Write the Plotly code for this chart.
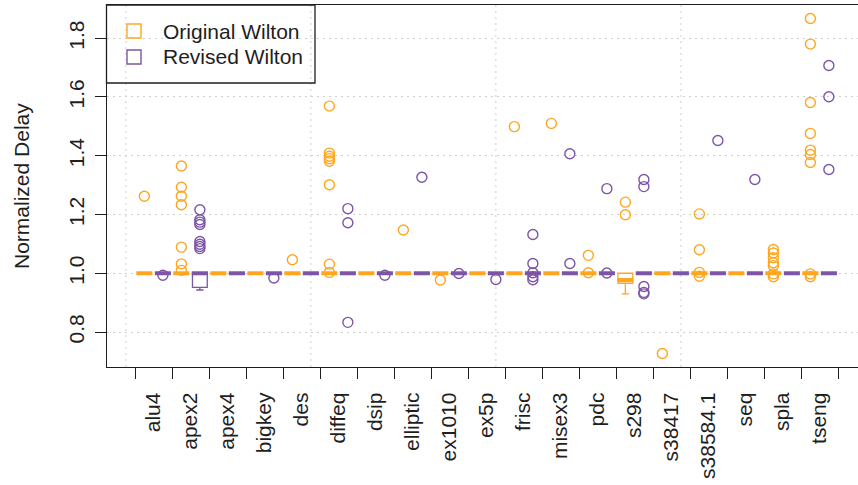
import plotly.graph_objects as go

# Benchmarks, in plotting order
benchmarks = ["alu4", "apex2", "apex4", "bigkey", "des", "diffeq", "dsip",
              "elliptic", "ex1010", "ex5p", "frisc", "misex3", "pdc", "s298",
              "s38417", "s38584.1", "seq", "spla", "tseng"]

# Box statistics for the original Wilton switch block
orig_q1 = [1.0] * 13 + [0.966] + [1.0] * 5
orig_median = [1.0] * 13 + [0.977] + [1.0] * 5
orig_q3 = [1.0] * 19
orig_lower = [1.0] * 13 + [0.930] + [1.0] * 5
orig_upper = [1.0] * 19

# Box statistics for the revised Wilton switch block
rev_q1 = [1.0, 0.952] + [1.0] * 17
rev_median = [1.0] * 19
rev_q3 = [1.0] * 19
rev_lower = [1.0, 0.943] + [1.0] * 17
rev_upper = [1.0] * 19

# Outlying normalized delays, one list per benchmark
orig_outliers = [
    [1.262],
    [1.365, 1.293, 1.262, 1.233, 1.089, 1.032, 1.010],
    [],
    [],
    [1.046],
    [1.569, 1.409, 1.398, 1.390, 1.381, 1.301, 1.031, 1.003],
    [],
    [1.147],
    [0.977],
    [],
    [1.499],
    [1.510],
    [1.061, 1.002],
    [1.242, 1.199],
    [0.727],
    [1.202, 1.080, 1.003, 0.990],
    [],
    [1.081, 1.069, 1.053, 1.036, 1.026, 0.998, 0.988],
    [1.867, 1.780, 1.581, 1.476, 1.419, 1.404, 1.377, 0.998, 0.988],
]
rev_outliers = [
    [0.993],
    [1.216, 1.182, 1.174, 1.166, 1.108, 1.099, 1.091, 1.084],
    [],
    [0.984],
    [],
    [1.220, 1.172, 0.833],
    [0.993],
    [1.327],
    [0.999],
    [0.979],
    [1.132, 1.033, 1.002, 0.988, 0.978],
    [1.407, 1.033],
    [1.288, 1.001],
    [1.319, 1.295, 0.955, 0.935, 0.930],
    [],
    [1.452],
    [1.319],
    [],
    [1.707, 1.601, 1.353],
]

y_ticks = [0.8, 1.0, 1.2, 1.4, 1.6, 1.8]
series_names = ["Original Wilton", "Revised Wilton"]

ORANGE = "#FFA620"
PURPLE = "#7D55A6"
INK = "#1e1e1e"
GRID = "#cfcfcf"
FONT = "Liberation Sans, Arial, sans-serif"

n = len(benchmarks)
orig_pos = [2 * i + 1 for i in range(n)]
rev_pos = [2 * i + 2 for i in range(n)]
label_pos = [2 * i + 1.5 for i in range(n)]
boundaries = [2 * i + 0.5 for i in range(n + 1)]

fig = go.Figure()

groups = [
    (orig_pos, orig_q1, orig_median, orig_q3, orig_lower, orig_upper, orig_outliers, ORANGE),
    (rev_pos, rev_q1, rev_median, rev_q3, rev_lower, rev_upper, rev_outliers, PURPLE),
]

for pos, q1, med, q3, lo, hi, outl, color in groups:
    fig.add_trace(go.Box(
        x=pos, q1=q1, median=med, q3=q3, lowerfence=lo, upperfence=hi,
        width=0.8, whiskerwidth=0.5, boxpoints=False,
        line=dict(color=color, width=1.3), fillcolor="rgba(255,255,255,0)",
        hoverinfo="skip", showlegend=False,
    ))
    # heavy median bars
    fig.add_trace(go.Scatter(
        x=pos, y=med, mode="markers",
        marker=dict(symbol="line-ew", size=11.5, line=dict(color=color, width=4)),
        hoverinfo="skip", showlegend=False,
    ))
    xs, ys = [], []
    for p, vals in zip(pos, outl):
        for v in vals:
            xs.append(p)
            ys.append(v)
    fig.add_trace(go.Scatter(
        x=xs, y=ys, mode="markers",
        marker=dict(symbol="circle-open", size=10, color=color,
                    line=dict(color=color, width=1.4)),
        hoverinfo="skip", showlegend=False,
    ))

# dotted vertical grid
for gx in [0, 10, 20, 30]:
    fig.add_shape(type="line", xref="x", yref="paper", x0=gx, x1=gx, y0=0, y1=1,
                  line=dict(color=GRID, width=1, dash="2px,4px"), layer="below")

# legend box, keys and labels
W, H = 858, 485
L, R, T, B = 107, 0, 5, 118
pw, ph = W - L - R, H - T - B


def px_x(px):
    return (px - L) / pw


def px_y(py):
    return (H - B - py) / ph


fig.add_shape(type="rect", xref="paper", yref="paper",
              x0=px_x(106.5), x1=px_x(315), y0=px_y(83), y1=1,
              line=dict(color=INK, width=1.3), fillcolor="rgba(0,0,0,0)")
for name, color, cy in zip(series_names, [ORANGE, PURPLE], [31, 57]):
    fig.add_shape(type="rect", xref="paper", yref="paper",
                  xsizemode="pixel", ysizemode="pixel",
                  xanchor=px_x(134), yanchor=px_y(cy),
                  x0=-7, x1=7, y0=-7, y1=7,
                  line=dict(color=color, width=1.4), fillcolor="rgba(0,0,0,0)")
    fig.add_annotation(xref="paper", yref="paper", x=px_x(161), y=px_y(cy),
                       text=name, showarrow=False, xanchor="left", yanchor="middle",
                       font=dict(family=FONT, size=21, color=INK))

fig.add_annotation(xref="paper", yref="paper", x=px_x(21), y=0.5,
                   text="Normalized Delay", textangle=-90, showarrow=False,
                   xanchor="center", yanchor="middle",
                   font=dict(family=FONT, size=21, color=INK))

fig.update_layout(
    width=W, height=H,
    margin=dict(l=L, r=R, t=T, b=B, pad=0),
    paper_bgcolor="white", plot_bgcolor="white",
    boxmode="overlay",
    font=dict(family=FONT, size=21, color=INK),
    showlegend=False,
)

fig.update_xaxes(
    range=[-1.02, -1.02 + pw / 18.5],
    tickmode="array", tickvals=label_pos, ticktext=benchmarks,
    tickangle=-90, ticks="", ticklabelstandoff=16,
    minor=dict(tickmode="array", tickvals=boundaries, ticks="outside",
               ticklen=11, tickwidth=1.3, tickcolor=INK, showgrid=False),
    showgrid=False, zeroline=False,
    showline=True, mirror=True, linecolor=INK, linewidth=1.3,
)
fig.update_yaxes(
    range=[0.681, 1.913],
    tickmode="array", tickvals=y_ticks, ticktext=[f"{v:.1f}" for v in y_ticks],
    tickangle=-90, ticks="outside", ticklen=11, tickwidth=1.3, tickcolor=INK,
    ticklabelstandoff=2,
    showgrid=True, gridcolor=GRID, gridwidth=1, griddash="2px,4px",
    zeroline=False, showline=True, mirror=False, linecolor=INK, linewidth=1.3,
)

fig.write_html("out.html")
